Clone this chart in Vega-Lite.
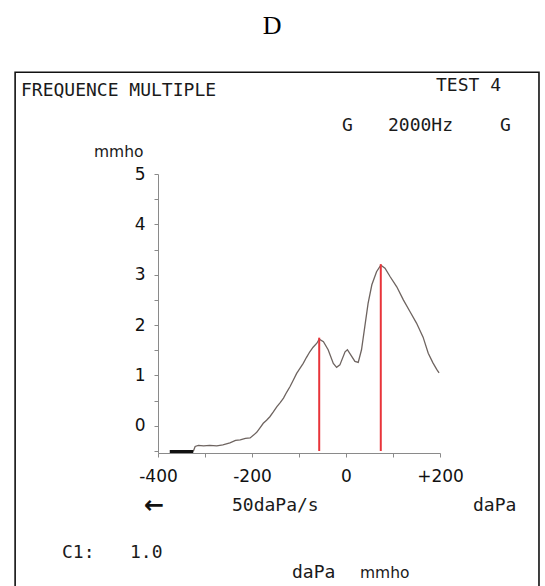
{
  "$schema": "https://vega.github.io/schema/vega-lite/v6.json",
  "width": 282,
  "height": 279,
  "autosize": {"type": "none"},
  "padding": {"left": 158, "top": 174, "right": 105, "bottom": 133},
  "background": "white",
  "config": {"view": {"stroke": null}},
  "resolve": {"axis": {"x": "independent", "y": "independent"}},
  "datasets": {
    "trace": [
      {"p": -325, "g": -0.51}, {"p": -321, "g": -0.41}, {"p": -314, "g": -0.39}, {"p": -303, "g": -0.40},
      {"p": -290, "g": -0.39}, {"p": -275, "g": -0.40}, {"p": -262, "g": -0.38}, {"p": -247, "g": -0.34},
      {"p": -235, "g": -0.29}, {"p": -225, "g": -0.28}, {"p": -214, "g": -0.25}, {"p": -204, "g": -0.24},
      {"p": -196, "g": -0.18}, {"p": -190, "g": -0.13}, {"p": -183, "g": -0.04}, {"p": -176, "g": 0.05},
      {"p": -169, "g": 0.11}, {"p": -162, "g": 0.18}, {"p": -155, "g": 0.27}, {"p": -147, "g": 0.38},
      {"p": -140, "g": 0.46}, {"p": -133, "g": 0.55}, {"p": -126, "g": 0.67}, {"p": -119, "g": 0.78},
      {"p": -112, "g": 0.91}, {"p": -105, "g": 1.04}, {"p": -98, "g": 1.14}, {"p": -91, "g": 1.24},
      {"p": -84, "g": 1.36}, {"p": -77, "g": 1.47}, {"p": -70, "g": 1.56}, {"p": -62, "g": 1.64},
      {"p": -57, "g": 1.72}, {"p": -48, "g": 1.67}, {"p": -38, "g": 1.51}, {"p": -27, "g": 1.24},
      {"p": -20, "g": 1.16}, {"p": -13, "g": 1.21}, {"p": -2, "g": 1.47}, {"p": 3, "g": 1.51},
      {"p": 8, "g": 1.44}, {"p": 19, "g": 1.28}, {"p": 26, "g": 1.26}, {"p": 33, "g": 1.51},
      {"p": 40, "g": 1.97}, {"p": 47, "g": 2.43}, {"p": 55, "g": 2.80}, {"p": 65, "g": 3.06},
      {"p": 74, "g": 3.19}, {"p": 83, "g": 3.13}, {"p": 94, "g": 2.96}, {"p": 108, "g": 2.76},
      {"p": 122, "g": 2.50}, {"p": 136, "g": 2.27}, {"p": 150, "g": 2.04}, {"p": 164, "g": 1.76},
      {"p": 175, "g": 1.44}, {"p": 185, "g": 1.25}, {"p": 193, "g": 1.12}, {"p": 198, "g": 1.05}
    ],
    "base": [{"p": -375, "g": -0.51}, {"p": -325, "g": -0.51}],
    "peaks": [{"p": -57, "g": 1.75}, {"p": 74, "g": 3.21}],
    "frame": [{"x1": -704, "x2": 410.6, "y1": 7.02, "y2": -3.4}],
    "monoText": [
      {"label": "FREQUENCE MULTIPLE", "p": -691.5, "g": 6.65},
      {"label": "TEST 4", "p": 191.5, "g": 6.75},
      {"label": "G", "p": -8.5, "g": 5.95},
      {"label": "2000Hz", "p": 89.4, "g": 5.95},
      {"label": "G", "p": 327.7, "g": 5.95},
      {"label": "50daPa/s", "p": -242.6, "g": -1.59},
      {"label": "daPa", "p": 270.2, "g": -1.59},
      {"label": "C1:", "p": -604.3, "g": -2.52},
      {"label": "1.0", "p": -459.6, "g": -2.52},
      {"label": "daPa", "p": -114.9, "g": -2.92}
    ],
    "propText": [
      {"label": "mmho", "p": -536.2, "g": 5.44},
      {"label": "mmho", "p": 29.8, "g": -2.92}
    ],
    "arrow": [{"label": "←", "p": -408.5, "g": -1.59}],
    "title": [{"label": "D", "p": -157.4, "g": 7.94}]
  },
  "layer": [
    {
      "data": {"name": "trace"},
      "mark": {"type": "line", "color": "#6e6460", "strokeWidth": 1.3},
      "encoding": {
        "x": {
          "field": "p", "type": "quantitative", "title": null,
          "scale": {"domain": [-400, 200], "nice": false, "zero": false},
          "axis": {
            "values": [-400, -300, -200, -100, 0, 100, 200],
            "labelExpr": "datum.value % 200 === 0 ? (datum.value > 0 ? '+' + datum.value : '' + datum.value) : ''",
            "title": null, "grid": false, "tickSize": 4, "labelPadding": 11,
            "labelFont": "DejaVu Sans", "labelFontSize": 17, "labelColor": "#111",
            "labelFlush": false, "labelOverlap": false,
            "domainColor": "#8a8a8a", "tickColor": "#8a8a8a"
          }
        },
        "y": {
          "field": "g", "type": "quantitative", "title": null,
          "scale": {"domain": [-0.54, 5], "nice": false, "zero": false},
          "axis": {
            "values": [-0.5, 0, 0.5, 1, 1.5, 2, 2.5, 3, 3.5, 4, 4.5, 5],
            "labelExpr": "datum.value % 1 === 0 ? format(datum.value, 'd') : ''",
            "title": null, "grid": false, "tickSize": 4, "labelPadding": 9,
            "labelFont": "DejaVu Sans", "labelFontSize": 17, "labelColor": "#111",
            "labelFlush": false, "labelOverlap": false,
            "domainColor": "#8a8a8a", "tickColor": "#8a8a8a"
          }
        }
      }
    },
    {
      "data": {"name": "base"},
      "mark": {"type": "line", "color": "#111", "strokeWidth": 3},
      "encoding": {
        "x": {"field": "p", "type": "quantitative", "axis": null},
        "y": {"field": "g", "type": "quantitative", "axis": null}
      }
    },
    {
      "data": {"name": "peaks"},
      "mark": {"type": "rule", "color": "#e8343a", "strokeWidth": 2},
      "encoding": {
        "x": {"field": "p", "type": "quantitative", "axis": null},
        "y": {"field": "g", "type": "quantitative", "axis": null},
        "y2": {"datum": -0.5}
      }
    },
    {
      "data": {"name": "frame"},
      "mark": {"type": "rect", "fill": null, "stroke": "#111", "strokeWidth": 1.6, "clip": false},
      "encoding": {
        "x": {"field": "x1", "type": "quantitative", "axis": null},
        "x2": {"field": "x2"},
        "y": {"field": "y1", "type": "quantitative", "axis": null},
        "y2": {"field": "y2"}
      }
    },
    {
      "data": {"name": "monoText"},
      "mark": {"type": "text", "font": "DejaVu Sans Mono", "fontSize": 18, "align": "left", "baseline": "middle", "color": "#1a1a1a"},
      "encoding": {
        "x": {"field": "p", "type": "quantitative", "axis": null},
        "y": {"field": "g", "type": "quantitative", "axis": null},
        "text": {"field": "label"}
      }
    },
    {
      "data": {"name": "propText"},
      "mark": {"type": "text", "font": "DejaVu Sans", "fontSize": 15.5, "align": "left", "baseline": "middle", "color": "#1a1a1a"},
      "encoding": {
        "x": {"field": "p", "type": "quantitative", "axis": null},
        "y": {"field": "g", "type": "quantitative", "axis": null},
        "text": {"field": "label"}
      }
    },
    {
      "data": {"name": "arrow"},
      "mark": {"type": "text", "font": "DejaVu Sans", "fontSize": 24, "fontWeight": "bold", "align": "center", "baseline": "middle", "color": "#111"},
      "encoding": {
        "x": {"field": "p", "type": "quantitative", "axis": null},
        "y": {"field": "g", "type": "quantitative", "axis": null},
        "text": {"field": "label"}
      }
    },
    {
      "data": {"name": "title"},
      "mark": {"type": "text", "font": "Liberation Serif", "fontSize": 26, "align": "center", "baseline": "middle", "color": "#000"},
      "encoding": {
        "x": {"field": "p", "type": "quantitative", "axis": null},
        "y": {"field": "g", "type": "quantitative", "axis": null},
        "text": {"field": "label"}
      }
    }
  ]
}
